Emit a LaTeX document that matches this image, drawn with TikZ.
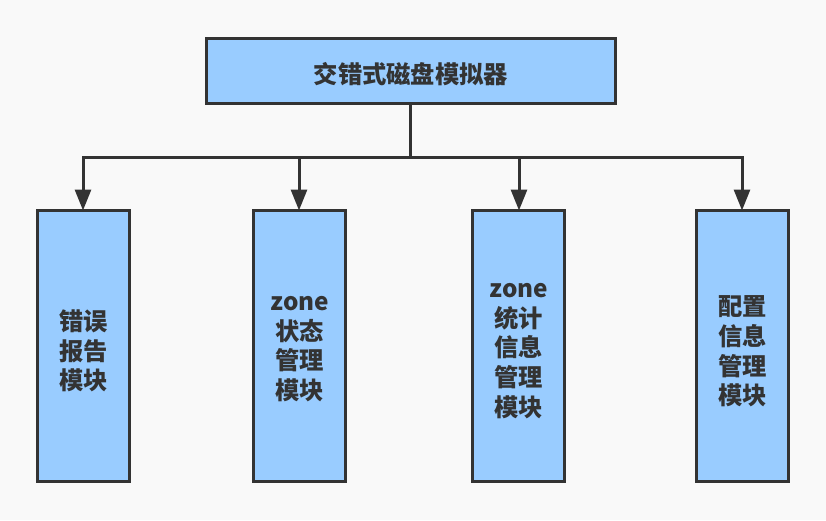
\documentclass[tikz,border=0pt]{standalone}
\usepackage{fontspec}
\setmainfont{Noto Sans CJK SC}
\usetikzlibrary{arrows.meta}
\definecolor{bg}{HTML}{F9F9F9}
\definecolor{boxfill}{HTML}{99CCFF}
\definecolor{ink}{HTML}{333333}
\tikzset{
  modbox/.style={draw=ink, fill=boxfill, line width=3pt, inner sep=0pt, outer sep=0pt, rectangle},
  modtext/.style={text=ink, font=\fontsize{24.3}{29.6}\selectfont\bfseries, align=center, inner sep=0pt},
  conn/.style={draw=ink, line width=3pt},
  arr/.style={conn, -{Triangle[length=21pt,width=16pt]}}
}
\begin{document}
\begin{tikzpicture}[x=1pt,y=-1pt]
\fill[bg] (0,0) rectangle (826,520);
\useasboundingbox (0,0) rectangle (826,520);
\node[modbox, minimum width=409.5pt, minimum height=65pt] (top) at (410.9,71) {};
\node[modtext] (toptext) at (410.9,74) {交错式磁盘模拟器};
\node[modbox, minimum width=92.5pt, minimum height=271pt] (b1) at (83.7,346) {};
\node[modbox, minimum width=92.5pt, minimum height=271pt] (b2) at (299.7,346) {};
\node[modbox, minimum width=92.5pt, minimum height=271pt] (b3) at (518.7,346) {};
\node[modbox, minimum width=92.5pt, minimum height=271pt] (b4) at (742.5,346) {};
\node[modtext] (t1) at (83.7,351) {错误\\报告\\模块};
\node[modtext] (t2) at (299.7,349) {zone\\状态\\管理\\模块};
\node[modtext] (t3) at (518.7,351) {zone\\统计\\信息\\管理\\模块};
\node[modtext] (t4) at (742.5,351.5) {配置\\信息\\管理\\模块};
\coordinate (hub) at (410.9,157);
\coordinate (j1) at (83,157);
\coordinate (j2) at (299,157);
\coordinate (j3) at (519,157);
\coordinate (j4) at (742,157);
\draw[conn] (top.south) -- (hub);
\draw[conn, line cap=rect] (j1) -- (j4);
\draw[arr] (j1) -- (j1 |- b1.north);
\draw[arr] (j2) -- (j2 |- b2.north);
\draw[arr] (j3) -- (j3 |- b3.north);
\draw[arr] (j4) -- (j4 |- b4.north);
\end{tikzpicture}
\end{document}
